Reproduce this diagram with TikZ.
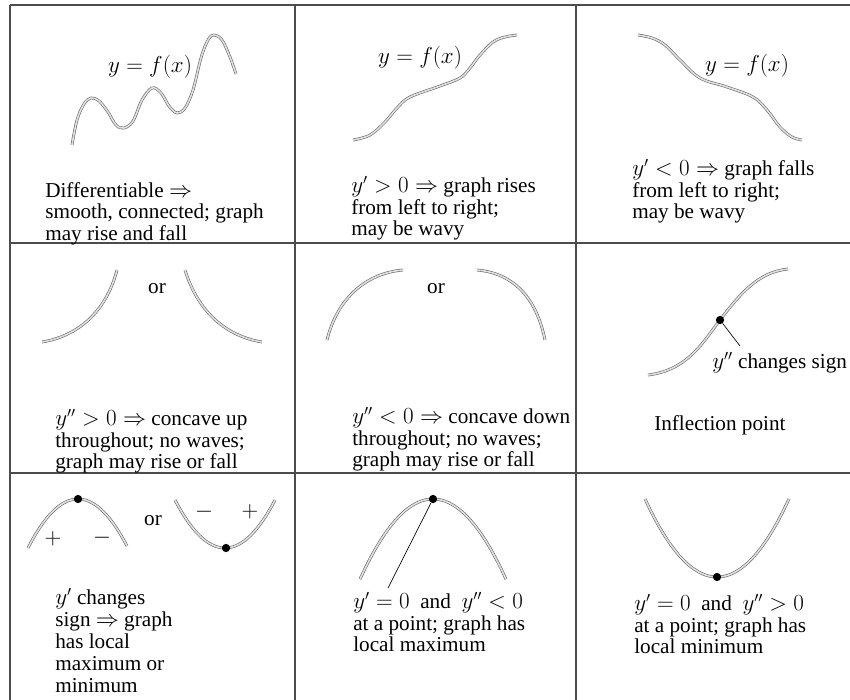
\documentclass[tikz,border=0pt]{standalone}
\usepackage{fontspec}
\setmainfont{Liberation Serif}
\begin{document}
\begin{tikzpicture}[x=0.75pt,y=-0.75pt,
  grid/.style={draw=black!70, line width=0.9pt},
  curve/.style={draw=black!60, line width=0.45pt, double=black!12, double distance=1.2pt},
  dot/.style={circle, fill=black, inner sep=0pt, minimum size=6.2pt},
  txt/.style={anchor=north west, inner sep=0pt, align=left, font=\fontsize{15.9}{16.1}\selectfont},
  lbl/.style={inner sep=0pt, font=\fontsize{15.9}{16.1}\selectfont},
  leader/.style={draw=black, line width=0.5pt}]
\useasboundingbox (0,0) rectangle (850,700);
% grid
\draw[grid, line width=1.3pt] (10,5) -- (850,5);
\draw[grid] (10,5) -- (10,700);
\draw[grid] (295,5) -- (295,700);
\draw[grid] (576,5) -- (576,700);
\draw[grid] (10,243) -- (850,243);
\draw[grid] (10,473) -- (850,473);

% ---------- row 1 ----------
\draw[curve] plot[smooth, tension=0.6] coordinates {(72,145) (77,120) (84,104) (91,98) (99,101) (108,112) (116,125) (124,128) (133,121) (142,100) (152,88) (161,93) (169,106) (177,113) (185,108) (193,90) (201,58) (208,40) (214,35) (222,40) (230,57) (236,74)};
\node[lbl] (f1) at (150,67) {$y = f(x)$};
\node[txt] (t11) at (45,182) {Differentiable $\Rightarrow$\\smooth, connected; graph\\may rise and fall};

\draw[curve] plot[smooth, tension=0.6] coordinates {(353,140) (370,135) (385,122) (397,108) (410,97) (440,86) (460,78) (470,68) (480,55) (493,42) (505,37) (517,35)};
\node[lbl] (f2) at (420,58) {$y = f(x)$};
\node[txt] (t12) at (351,176) {$y' > 0 \Rightarrow$ graph rises\\from left to right;\\may be wavy};

\draw[curve] plot[smooth, tension=0.6] coordinates {(638,35) (652,38) (665,45) (680,60) (700,78) (727,87) (753,97) (767,110) (780,127) (792,137) (802,140)};
\node[lbl] (f3) at (747,66) {$y = f(x)$};
\node[txt] (t13) at (632,159) {$y' < 0 \Rightarrow$ graph falls\\from left to right;\\may be wavy};

% ---------- row 2 ----------
\draw[curve] (42,342) .. controls (78,336) and (106,312) .. (117,270);
\node[lbl] (or1) at (157,289) {or};
\draw[curve] (185,270) .. controls (198,312) and (226,336) .. (262,342);
\node[txt] (t21) at (55,409) {$y'' > 0 \Rightarrow$ concave up\\throughout; no waves;\\graph may rise or fall};

\draw[curve] (327,340) .. controls (338,296) and (368,273) .. (403,270);
\node[lbl] (or2) at (436,289) {or};
\draw[curve] (477,270) .. controls (512,273) and (536,296) .. (545,340);
\node[txt] (t22) at (352,407) {$y'' < 0 \Rightarrow$ concave down\\throughout; no waves;\\graph may rise or fall};

\draw[curve] (648,375) .. controls (688,370) and (703,342) .. (720,320) .. controls (740,294) and (758,272) .. (788,269);
\node[dot] (ip) at (720,320) {};
\node[txt] (ipl) at (712,352) {$y''$ changes sign};
\coordinate (ipe) at (740,346);
\draw[leader] (ip) -- (ipe);
\node[txt] (t23) at (654,415) {Inflection point};

% ---------- row 3 ----------
\draw[curve] plot[domain=28:127, samples=50, smooth] (\x, {499+0.0196*(\x-78)*(\x-78)});
\node[dot] (mx1) at (78,499) {};
\node[lbl] (p1) at (53,539) {$+$};
\node[lbl] (m1) at (102,538) {$-$};
\node[lbl] (or3) at (153,521) {or};
\draw[curve] plot[domain=175:275, samples=50, smooth] (\x, {548-0.0192*(\x-225)*(\x-225)});
\node[dot] (mn1) at (226,548) {};
\node[lbl] (m2) at (204,512) {$-$};
\node[lbl] (p2) at (250,512) {$+$};
\node[txt, font=\fontsize{15.9}{16.5}\selectfont] (t31) at (55,588) {$y'$ changes\\sign $\Rightarrow$ graph\\has local\\maximum or\\minimum};

\draw[curve] plot[domain=360:506, samples=60, smooth] (\x, {499+0.01505*(\x-433)*(\x-433)});
\node[dot] (mx2) at (433,499) {};
\coordinate (mxe) at (388,588);
\draw[leader] (mx2) -- (mxe);
\node[txt] (t32) at (353,592) {$y' = 0$\ \ and\ \ $y'' < 0$\\at a point; graph has\\local maximum};

\draw[curve] plot[domain=645:789, samples=60, smooth] (\x, {577-0.01506*(\x-717)*(\x-717)});
\node[dot] (mn2) at (717,577) {};
\node[txt] (t33) at (634,594) {$y' = 0$\ \ and\ \ $y'' > 0$\\at a point; graph has\\local minimum};
\end{tikzpicture}
\end{document}
